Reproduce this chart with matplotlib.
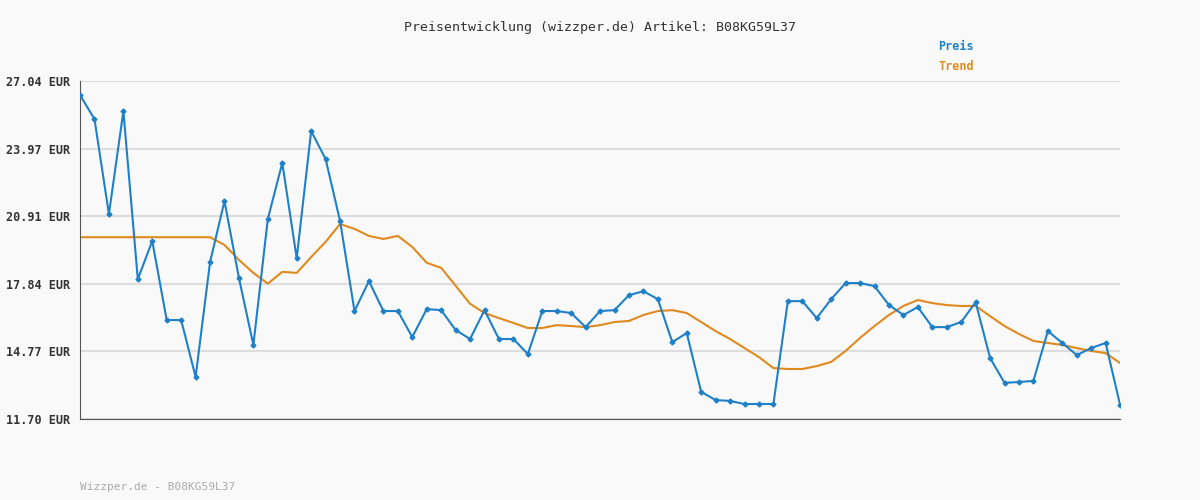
import matplotlib.pyplot as plt

# price history (EUR)
preis = [26.40, 25.31, 21.00, 25.67, 18.05, 19.78, 16.19, 16.19, 13.61, 18.82,
         21.59, 18.10, 15.06, 20.78, 23.32, 19.00, 24.77, 23.50, 20.69, 16.60,
         17.96, 16.60, 16.60, 15.42, 16.69, 16.64, 15.74, 15.33, 16.64, 15.33,
         15.33, 14.65, 16.60, 16.60, 16.51, 15.87, 16.60, 16.64, 17.32, 17.50,
         17.14, 15.19, 15.60, 12.93, 12.56, 12.52, 12.38, 12.38, 12.38, 17.05,
         17.05, 16.28, 17.14, 17.87, 17.87, 17.73, 16.87, 16.42, 16.78, 15.87,
         15.87, 16.10, 17.00, 14.47, 13.34, 13.38, 13.43, 15.69, 15.15, 14.60,
         14.92, 15.15, 12.34]
trend = [19.95] * 10 + [
         19.60, 18.92, 18.33, 17.84, 18.38, 18.33, 19.05, 19.74, 20.55, 20.33,
         20.01, 19.87, 20.01, 19.51, 18.79, 18.56, 17.75, 16.93, 16.51, 16.28,
         16.06, 15.83, 15.83, 15.96, 15.92, 15.87, 15.96, 16.10, 16.15, 16.42,
         16.60, 16.64, 16.51, 16.10, 15.69, 15.33, 14.92, 14.51, 14.01, 13.97,
         13.97, 14.10, 14.29, 14.79, 15.38, 15.92, 16.42, 16.83, 17.10, 16.96,
         16.87, 16.83, 16.83, 16.37, 15.92, 15.56, 15.24, 15.15, 15.06, 14.92,
         14.79, 14.69, 14.24]
y_ticks = [11.70, 14.77, 17.84, 20.91, 23.97, 27.04]

plt.rcParams['font.family'] = 'DejaVu Sans Mono'
bg = '#f9f9f9'
fig = plt.figure(figsize=(12, 5), dpi=100, facecolor=bg)
ax = fig.add_axes([0.0667, 0.162, 0.8667, 0.676], facecolor=bg)

x = range(len(preis))
ax.plot(x, trend, color='#e08a1e', lw=1.5, zorder=2)
ax.plot(x, preis, color='#1f80c8', lw=1.5, marker='D', ms=2.5, zorder=3)

ax.set_xlim(0, len(preis) - 1)
ax.set_ylim(11.70, 27.04)
ax.set_yticks(y_ticks)
ax.set_yticklabels([f'{v:.2f} EUR' for v in y_ticks], fontsize=8.5,
                   fontweight='bold', color='#333333')
ax.set_xticks([])
ax.tick_params(axis='y', length=0, pad=7)
ax.grid(axis='y', color='#dddddd', lw=1.5)
ax.set_axisbelow(True)
for s in ['top', 'right']:
    ax.spines[s].set_visible(False)
ax.spines['left'].set_color('#555555')
ax.spines['bottom'].set_color('#555555')

fig.text(0.5, 0.945, 'Preisentwicklung (wizzper.de) Artikel: B08KG59L37',
         ha='center', va='center', fontsize=9.5, color='#333333')
fig.text(0.782, 0.907, 'Preis', color='#1f80c8', fontsize=8.5, fontweight='bold', va='center')
fig.text(0.782, 0.866, 'Trend', color='#e08a1e', fontsize=8.5, fontweight='bold', va='center')
fig.text(0.0667, 0.025, 'Wizzper.de - B08KG59L37', color='#aaaaaa', fontsize=8, va='center')

fig.savefig('out.png', dpi=100, facecolor=bg)
